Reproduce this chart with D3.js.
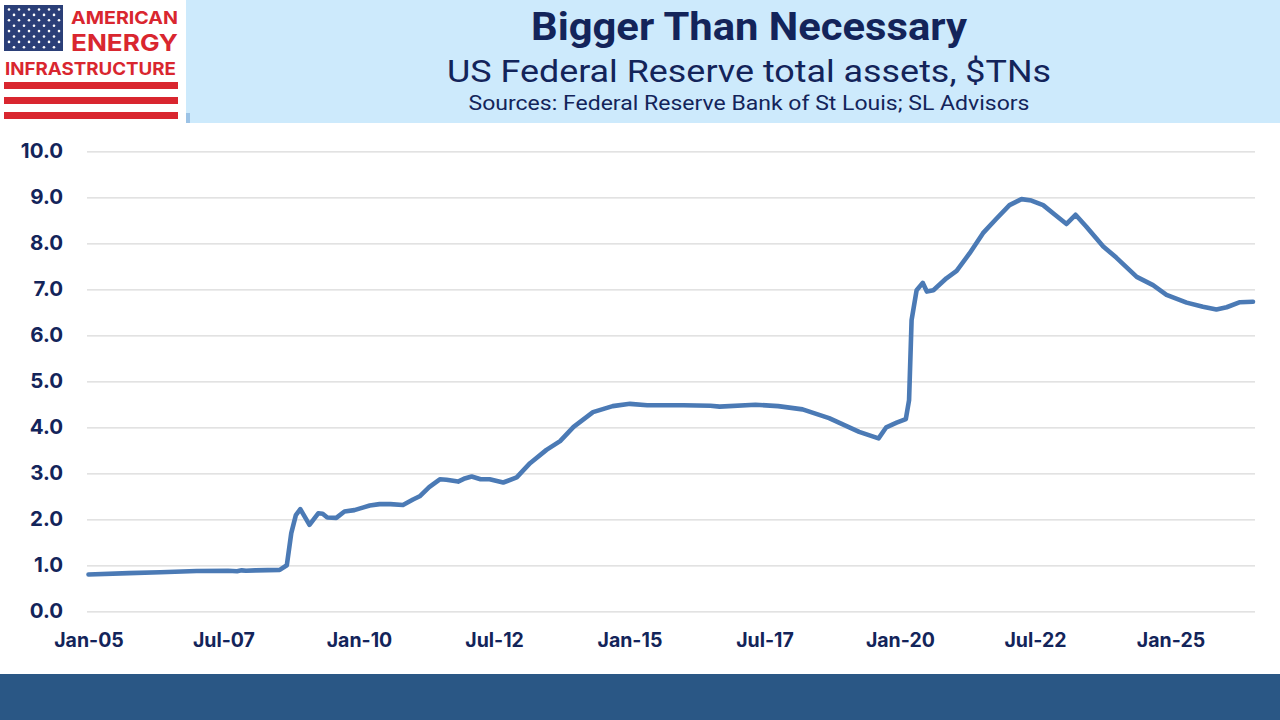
<!DOCTYPE html>
<html><head><meta charset="utf-8">
<script src="https://cdn.jsdelivr.net/npm/d3@7"></script>
<style>
html,body{margin:0;padding:0;background:#fff;}
svg{display:block;}
</style></head>
<body>
<svg id="chart" width="1280" height="720"></svg>
<script>
// ---- data ----
const dates = ["2005-01-01","2005-10-01","2006-05-01","2007-01-01","2007-08-01","2007-10-01","2007-11-01","2007-12-01","2008-02-01","2008-07-15","2008-09-01","2008-10-01","2008-11-01","2008-12-01","2009-02-01","2009-04-01","2009-05-01","2009-06-01","2009-08-01","2009-09-25","2009-12-01","2010-02-01","2010-03-15","2010-05-20","2010-08-01","2010-10-25","2011-01-01","2011-02-15","2011-04-20","2011-07-01","2011-08-15","2011-11-01","2011-12-10","2012-02-01","2012-04-01","2012-06-01","2012-09-01","2012-12-01","2013-03-01","2013-06-20","2013-09-20","2013-12-20","2014-04-30","2014-09-10","2015-01-05","2015-05-01","2016-01-01","2016-07-01","2016-09-01","2017-05-01","2017-10-01","2018-03-15","2018-09-10","2019-04-01","2019-08-10","2019-10-01","2019-12-10","2020-02-10","2020-03-03","2020-03-20","2020-04-23","2020-06-03","2020-07-01","2020-08-14","2020-11-10","2021-01-18","2021-04-15","2021-07-15","2021-10-15","2022-01-10","2022-04-01","2022-06-07","2022-08-25","2022-11-13","2023-01-30","2023-04-01","2023-06-13","2023-10-05","2024-01-01","2024-05-18","2024-09-05","2024-12-05","2025-04-20","2025-08-08","2025-11-07","2026-01-15","2026-04-15","2026-07-12"];
const values = [0.80,0.83,0.85,0.875,0.88,0.87,0.89,0.88,0.89,0.90,1.00,1.70,2.09,2.22,1.88,2.13,2.12,2.04,2.03,2.17,2.20,2.26,2.30,2.33,2.33,2.31,2.43,2.50,2.70,2.87,2.86,2.82,2.88,2.93,2.87,2.87,2.80,2.91,3.22,3.51,3.70,4.01,4.33,4.46,4.51,4.48,4.48,4.47,4.45,4.49,4.46,4.39,4.20,3.90,3.76,4.00,4.10,4.18,4.59,6.33,6.98,7.14,6.95,6.98,7.24,7.40,7.78,8.22,8.54,8.83,8.96,8.93,8.83,8.62,8.42,8.62,8.36,7.93,7.69,7.27,7.09,6.88,6.71,6.62,6.56,6.61,6.72,6.73];
const xTickDates = ["2005-01-01","2007-07-01","2010-01-01","2012-07-01","2015-01-01","2017-07-01","2020-01-01","2022-07-01","2025-01-01"];
const yTicks = [0,1,2,3,4,5,6,7,8,9,10];
const titleText = "Bigger Than Necessary";
const subtitleText = "US Federal Reserve total assets, $TNs";
const sourceText = "Sources: Federal Reserve Bank of St Louis; SL Advisors";

// ---- setup ----
const svg = d3.select("#chart");
const parse = d3.timeParse("%Y-%m-%d");
const series = dates.map((d,i)=>({date:parse(d), value:values[i]}));
const navy = "#13245a";

// header background
svg.append("rect").attr("x",186).attr("y",0).attr("width",1094).attr("height",123).attr("fill","#cdeafc");
svg.append("rect").attr("x",186).attr("y",113).attr("width",4).attr("height",10).attr("fill","#9cc3e6");
// bottom band
svg.append("rect").attr("x",0).attr("y",674).attr("width",1280).attr("height",46).attr("fill","#2a5785");

// logo
const logo = svg.append("g");
logo.append("rect").attr("x",4).attr("y",5).attr("width",59).attr("height",46).attr("fill","#2b3f78");
const stars = [];
for(let r=0;r<8;r++){ const cols = r%2===0?6:5; for(let c=0;c<cols;c++){ stars.push({x: 9 + c*10 + (r%2===0?0:5), y: 9.5 + r*5.4}); } }
logo.selectAll("circle.star").data(stars).join("circle").attr("class","star").attr("cx",d=>d.x).attr("cy",d=>d.y).attr("r",1.3).attr("fill","#fff");
const red = "#d9262f";
const lf = "Inter, 'Open Sans', sans-serif";
logo.append("text").attr("x",71).attr("y",24).attr("textLength",107).attr("lengthAdjust","spacingAndGlyphs")
  .attr("font-family",lf).attr("font-weight",700).attr("font-size",18).attr("fill",red).text("AMERICAN");
logo.append("text").attr("x",71).attr("y",51).attr("textLength",107).attr("lengthAdjust","spacingAndGlyphs")
  .attr("font-family",lf).attr("font-weight",700).attr("font-size",23).attr("fill",red).text("ENERGY");
logo.append("text").attr("x",5).attr("y",75).attr("textLength",171).attr("lengthAdjust","spacingAndGlyphs")
  .attr("font-family",lf).attr("font-weight",700).attr("font-size",17.5).attr("fill",red).text("INFRASTRUCTURE");
[82,97,112].forEach(y=>logo.append("rect").attr("x",4).attr("y",y).attr("width",174).attr("height",7).attr("fill",red));

// titles
const tf = "'Liberation Sans Narrow', 'Roboto', sans-serif";
svg.append("text").attr("x",749).attr("y",40).attr("text-anchor","middle").attr("textLength",436).attr("lengthAdjust","spacingAndGlyphs")
  .attr("font-family",tf).attr("font-weight","bold").attr("font-size",38).attr("fill",navy).text(titleText);
svg.append("text").attr("x",749).attr("y",82).attr("text-anchor","middle").attr("textLength",604).attr("lengthAdjust","spacingAndGlyphs")
  .attr("font-family",tf).attr("font-size",31).attr("fill",navy).text(subtitleText);
svg.append("text").attr("x",749).attr("y",110).attr("text-anchor","middle").attr("textLength",561).attr("lengthAdjust","spacingAndGlyphs")
  .attr("font-family",tf).attr("font-size",21).attr("fill",navy).text(sourceText);

// scales
const x = d3.scaleTime().domain([parse("2005-01-01"), parse("2025-01-01")]).range([88.5, 1170.5]);
const y = d3.scaleLinear().domain([0,10]).range([611.3, 151.3]);
const left = 87, right = 1255;

// y axis + grid
const yAxis = svg.append("g").attr("transform",`translate(${left},0)`)
  .call(d3.axisLeft(y).tickValues(yTicks).tickFormat(d3.format(".1f")).tickSizeInner(-(right-left)).tickSizeOuter(0).tickPadding(24));
yAxis.select(".domain").remove();
yAxis.selectAll(".tick line").attr("stroke","#d9d9d9").attr("stroke-width",1.2);
yAxis.selectAll(".tick text").attr("font-family",lf).attr("font-weight",700).attr("font-size",20.5).attr("fill",navy);

// x axis
const xAxis = svg.append("g").attr("transform",`translate(0,${y(0)})`)
  .call(d3.axisBottom(x).tickValues(xTickDates.map(parse)).tickFormat(d3.timeFormat("%b-%y")).tickSize(0).tickPadding(22));
xAxis.select(".domain").remove();
xAxis.selectAll(".tick text").attr("font-family",lf).attr("font-weight",700).attr("font-size",19.5).attr("fill",navy);

// line
const line = d3.line().x(d=>x(d.date)).y(d=>y(d.value));
svg.append("path").datum(series).attr("d",line).attr("fill","none").attr("stroke","#4b7ab5")
  .attr("stroke-width",4.6).attr("stroke-linejoin","round").attr("stroke-linecap","round");
</script>
</body></html>
